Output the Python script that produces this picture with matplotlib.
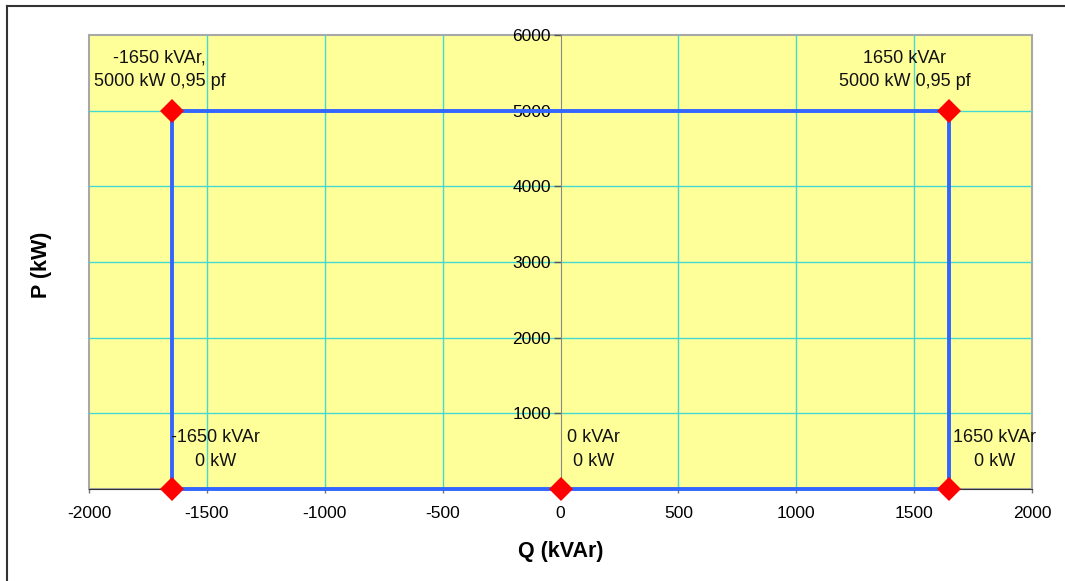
"""
P-Q capability chart (rectangle)
"""
import matplotlib.pyplot as plt
from matplotlib.lines import Line2D
from matplotlib.patches import Rectangle

# Data
q_kvar = [-1650, -1650, 1650, 1650, 0, -1650]
p_kw = [0, 5000, 5000, 0, 0, 0]

pt_q = [-1650, 1650, -1650, 0, 1650]
pt_p = [5000, 5000, 0, 0, 0]

labels = ["-1650 kVAr,\n5000 kW 0,95 pf", "1650 kVAr\n5000 kW 0,95 pf",
          "-1650 kVAr\n0 kW", "0 kVAr\n0 kW", "1650 kVAr\n0 kW"]
label_q = [-1700, 1460, -1465, 140, 1840]
label_p = [5540, 5540, 520, 520, 520]

x_ticks = [-2000, -1500, -1000, -500, 0, 500, 1000, 1500, 2000]
y_ticks = [1000, 2000, 3000, 4000, 5000, 6000]

plt.rcParams['font.family'] = ['Liberation Sans', 'DejaVu Sans']
plt.rcParams['axes.unicode_minus'] = False

fig = plt.figure(figsize=(10.65, 5.81), dpi=100)
ax = fig.add_axes([89 / 1065, 1 - 489 / 581, 943 / 1065, 454 / 581])
ax.set_facecolor('#ffff99')

# Grid
for x in x_ticks[1:-1]:
    if x != 0:
        ax.axvline(x, color='#44d8d0', lw=1, zorder=1)
for y in y_ticks[:-1]:
    ax.axhline(y, color='#44d8d0', lw=1, zorder=1)

# Curve and points
ax.plot(q_kvar, p_kw, color='#3366ff', lw=2.8, zorder=3, clip_on=False)
ax.plot(pt_q, pt_p, 'D', color='#ff0000', markersize=12, zorder=4,
        clip_on=False, markeredgewidth=0)

for txt, x, y in zip(labels, label_q, label_p):
    ax.text(x, y, txt, ha='center', va='center', fontsize=13,
            linespacing=1.5, color='#111111', zorder=5)

ax.set_xlim(-2000, 2000)
ax.set_ylim(0, 6000)
ax.set_xticks(x_ticks)
ax.set_yticks(y_ticks)

# y axis through x=0
ax.spines['left'].set_position(('data', 0))
ax.spines['left'].set_color('#888888')
ax.spines['left'].set_zorder(2)
ax.spines['right'].set_visible(False)
ax.spines['top'].set_visible(False)
ax.spines['bottom'].set_color('#333333')
ax.add_patch(Rectangle((0, 0), 1, 1, transform=ax.transAxes, fill=False,
                       edgecolor='#a8a8a8', lw=1.5, zorder=0.5, clip_on=False))

ax.tick_params(axis='y', length=5, width=1, color='#555555', labelsize=12.5,
               pad=2, direction='out')
ax.tick_params(axis='x', length=3, width=1, color='#777777', labelsize=12.5,
               pad=9, direction='out')

# Axis labels
fig.text(561 / 1065, 1 - 551 / 581, 'Q (kVAr)', ha='center', va='center',
         fontsize=15.5, fontweight='bold')
fig.text(42 / 1065, 1 - 265 / 581, 'P (kW)', ha='center', va='center',
         fontsize=15.5, fontweight='bold', rotation=90)

# Outer frame (top and left)
fig.add_artist(Line2D([7 / 1065, 1], [1 - 6 / 581, 1 - 6 / 581],
                      color='#333333', lw=1.5))
fig.add_artist(Line2D([7 / 1065, 7 / 1065], [0, 1 - 6 / 581],
                      color='#333333', lw=1.5))

fig.savefig('out.png', dpi=100, facecolor='white')
